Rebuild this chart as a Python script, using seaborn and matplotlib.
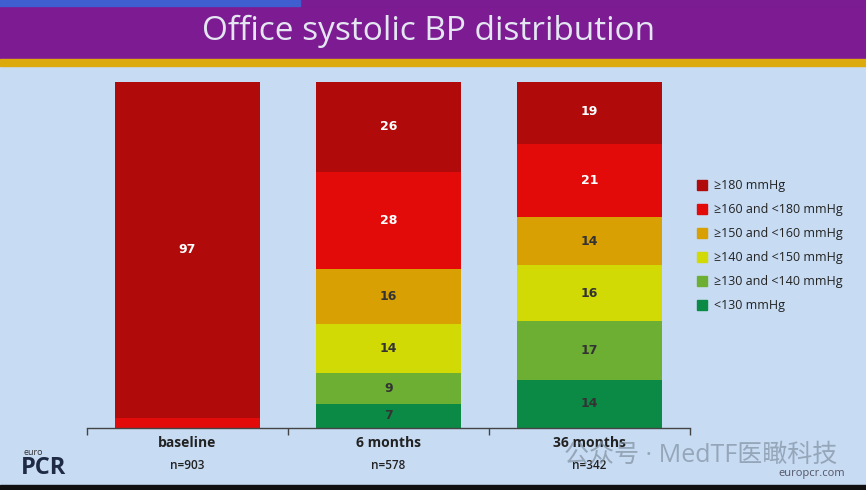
import numpy as np
import pandas as pd
import matplotlib.pyplot as plt
import matplotlib.patches as mpatches
import seaborn as sns

# Data (percent of patients per BP band, bottom band first)
GROUPS = ["baseline", "6 months", "36 months"]
N_LABELS = ["n=903", "n=578", "n=342"]
BANDS = ["<130 mmHg", "\u2265130 and <140 mmHg", "\u2265140 and <150 mmHg",
         "\u2265150 and <160 mmHg", "\u2265160 and <180 mmHg", "\u2265180 mmHg"]
LT130 = [0, 7, 14]
B130_140 = [0, 9, 17]
B140_150 = [0, 14, 16]
B150_160 = [0, 16, 14]
B160_180 = [3, 28, 21]
GE180 = [97, 26, 19]
COLORS = ["#0B8A45", "#6CAF32", "#D2DA06", "#D9A004", "#E30A0A", "#B00A0A"]
LABEL_COLORS = ["#333333", "#333333", "#333333", "#333333", "white", "white"]

BG = "#C7DBF3"

sns.set_theme(style="white")
plt.rcParams["font.family"] = ["Open Sans", "Noto Sans CJK SC", "DejaVu Sans"]

vals = np.array([LT130, B130_140, B140_150, B150_160, B160_180, GE180])
cum = vals.cumsum(axis=0)

fig = plt.figure(figsize=(8.66, 4.9), dpi=100, facecolor=BG)

# slide decoration: title bar and gold rule
fig.patches.append(mpatches.Rectangle((0, 1 - 8 / 490), 1, 8 / 490, transform=fig.transFigure,
                                      color="#7B1C93", zorder=0))
fig.patches.append(mpatches.Rectangle((0, 1 - 6 / 490), 300 / 866, 6 / 490, transform=fig.transFigure,
                                      color="#3F5FD0", zorder=0))
fig.patches.append(mpatches.Rectangle((0, 1 - 59 / 490), 1, 51 / 490, transform=fig.transFigure,
                                      color="#7D1B92", zorder=0))
fig.patches.append(mpatches.Rectangle((0, 1 - 66 / 490), 1, 7 / 490, transform=fig.transFigure,
                                      color="#DDAA0E", zorder=0))
fig.patches.append(mpatches.Rectangle((0, 0), 1, 5 / 490, transform=fig.transFigure,
                                      color="#111111", zorder=0))
fig.text(429 / 866, 1 - 31 / 490, "Office systolic BP distribution", ha="center", va="center",
         fontsize=24, color="#E4E6F2")

ax = fig.add_axes([87 / 866, 62 / 490, 603 / 866, 346 / 490])
ax.set_facecolor(BG)

# stacked bars: draw cumulative totals from the top band down
for i in range(len(BANDS) - 1, -1, -1):
    df = pd.DataFrame({"group": GROUPS, "value": cum[i]})
    sns.barplot(data=df, x="group", y="value", color=COLORS[i], saturation=1,
                width=0.72, linewidth=0, ax=ax)

# segment labels
for j in range(len(GROUPS)):
    for i in range(len(BANDS)):
        v = vals[i, j]
        if v >= 5:
            ax.text(j, cum[i, j] - v / 2, f"{v}", ha="center", va="center",
                    fontsize=9, fontweight="bold", color=LABEL_COLORS[i],
                    family="DejaVu Sans")

ax.set_xlim(-0.5, 2.5)
ax.set_ylim(0, 100)
ax.set_xlabel("")
ax.set_ylabel("")
ax.set_yticks([])
for s in ["top", "right", "left"]:
    ax.spines[s].set_visible(False)
ax.spines["bottom"].set_color("#444444")
ax.spines["bottom"].set_linewidth(1)
ax.set_xticks([-0.5, 0.5, 1.5, 2.5], minor=True)
ax.tick_params(axis="x", which="minor", length=5, width=1, color="#444444", direction="out", bottom=True)
ax.tick_params(axis="x", which="major", length=0, pad=6)
ax.set_xticks(range(len(GROUPS)))
ax.set_xticklabels(GROUPS, fontsize=10, fontweight="bold", color="#222222")
for j, n in enumerate(N_LABELS):
    ax.text(j, -10.8, n, ha="center", va="center", fontsize=8.5, fontweight="semibold",
            color="#222222", transform=ax.transData, clip_on=False)

# legend
handles = [mpatches.Patch(color=COLORS[i], label=BANDS[i]) for i in range(len(BANDS) - 1, -1, -1)]
leg = fig.legend(handles=handles, loc="upper left", bbox_to_anchor=(686 / 866, 1 - 168 / 490),
                 frameon=False, fontsize=9, handlelength=0.8, handleheight=0.9,
                 handletextpad=0.5, labelspacing=0.88)
for t in leg.get_texts():
    t.set_color("#222222")

# logos / watermark
fig.text(24 / 866, 1 - 452 / 490, "euro", fontsize=6.5, color="#333333", va="center")
fig.text(21 / 866, 1 - 468 / 490, "PCR", fontsize=17, fontweight="bold", color="#1F2A44", va="center")
fig.text(845 / 866, 1 - 473 / 490, "europcr.com", fontsize=8, color="#555566", ha="right", va="center")
fig.text(564 / 866, 1 - 455 / 490, "\u516c\u4f17\u53f7 \u00b7 MedTF\u533b\u77b0\u79d1\u6280",
         fontsize=18, color="#8090A0", alpha=0.7, va="center", zorder=0)

fig.savefig("out.png", dpi=100, facecolor=BG)
